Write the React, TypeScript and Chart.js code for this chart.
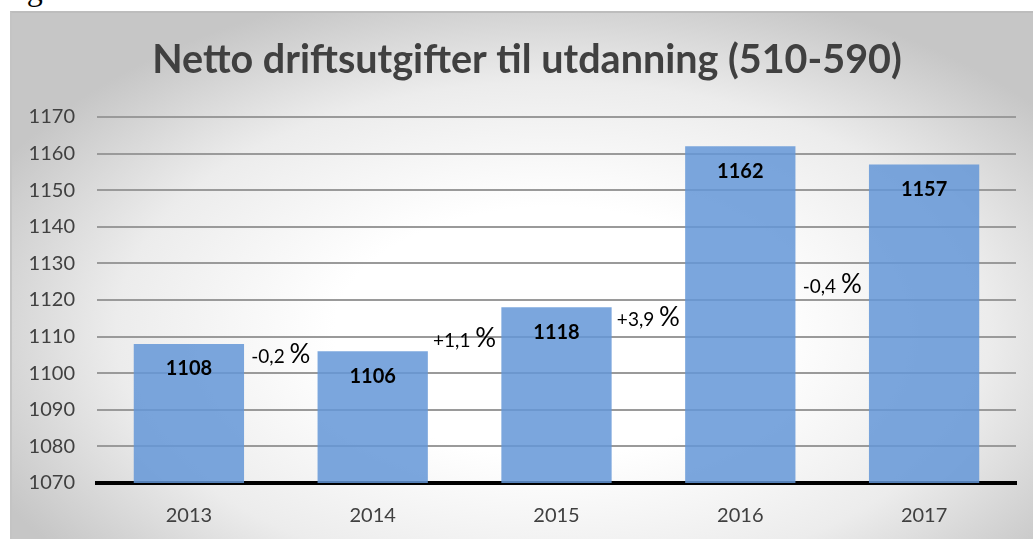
import React, { useEffect, useRef } from "react";
import { Chart, registerables } from "chart.js";

Chart.register(...registerables);

const years = ["2013", "2014", "2015", "2016", "2017"];
const values = [1108, 1106, 1118, 1162, 1157];
const changeLabels = ["-0,2", "+1,1", "+3,9", "-0,4"];
const changeLabelAt = [1102.8, 1107.2, 1112.9, 1121.9];
const yMin = 1070;
const yMax = 1170;
const yStep = 10;
const titleText = "Netto driftsutgifter til utdanning (510-590)";
const FONT = "Lato, 'Open Sans', sans-serif";

const labelsPlugin = {
  id: "labelsPlugin",
  afterDraw(chart: any) {
    const ctx = chart.ctx;
    ctx.save();
    ctx.fillStyle = "#404040";
    ctx.font = `bold 39.5px ${FONT}`;
    ctx.textAlign = "center";
    ctx.textBaseline = "alphabetic";
    ctx.fillText(titleText, 527, 73);
    ctx.restore();
  },
  afterDatasetsDraw(chart: any) {
    const ctx = chart.ctx;
    const meta = chart.getDatasetMeta(0);
    const xs = chart.scales.x;
    const ys = chart.scales.y;
    ctx.save();
    ctx.fillStyle = "#000000";
    ctx.font = `bold 20px ${FONT}`;
    ctx.textAlign = "center";
    ctx.textBaseline = "middle";
    meta.data.forEach((bar: any, i: number) => {
      ctx.fillText(String(values[i]), bar.x, bar.y + 25);
    });
    ctx.textBaseline = "alphabetic";
    ctx.textAlign = "left";
    changeLabels.forEach((t, i) => {
      const cx = (xs.getPixelForValue(i) + xs.getPixelForValue(i + 1)) / 2;
      const by = ys.getPixelForValue(changeLabelAt[i]);
      ctx.font = `19px ${FONT}`;
      const w1 = ctx.measureText(t + " ").width;
      ctx.font = `26px ${FONT}`;
      const w2 = ctx.measureText("%").width;
      const x0 = cx - (w1 + w2) / 2;
      ctx.font = `19px ${FONT}`;
      ctx.fillText(t + " ", x0, by);
      ctx.font = `26px ${FONT}`;
      ctx.fillText("%", x0 + w1, by);
    });
    ctx.restore();
  },
};

export default function App() {
  const ref = useRef<HTMLCanvasElement | null>(null);
  useEffect(() => {
    if (!ref.current) return;
    const chart = new Chart(ref.current, {
      type: "bar",
      data: {
        labels: years,
        datasets: [
          {
            data: values,
            backgroundColor: "rgba(100,151,215,0.85)",
            borderWidth: 0,
            categoryPercentage: 1,
            barPercentage: 0.6,
          },
        ],
      },
      options: {
        animation: false,
        responsive: false,
        maintainAspectRatio: false,
        layout: { padding: { left: 0, right: 17, top: 117, bottom: 0 } },
        plugins: {
          legend: { display: false },
          tooltip: { enabled: false },
          title: { display: false },
        },
        scales: {
          x: {
            grid: { display: false },
            border: { display: true, color: "#000000", width: 4 },
            ticks: { color: "#404040", font: { family: FONT, size: 20 }, padding: 13 },
            afterFit: (s: any) => {
              s.height = 56;
            },
          },
          y: {
            min: yMin,
            max: yMax,
            grid: { color: "#9a9a9a", lineWidth: 2, drawTicks: false },
            border: { display: false },
            ticks: {
              stepSize: yStep,
              color: "#404040",
              font: { family: FONT, size: 20 },
              padding: 22,
              callback: (v: any) => String(v),
            },
            afterFit: (s: any) => {
              s.width = 97;
            },
          },
        },
      },
      plugins: [labelsPlugin],
    });
    return () => chart.destroy();
  }, []);

  return (
    <div style={{ position: "fixed", left: 0, top: 0, width: 1033, height: 539, overflow: "hidden", background: "#ffffff" }}>
      <div
        style={{
          position: "absolute",
          left: 0,
          top: -27,
          fontFamily: "'Liberation Serif', serif",
          fontSize: 32,
          lineHeight: "32px",
          color: "#000",
          whiteSpace: "nowrap",
        }}
      >
        Figur 4.2
      </div>
      <div
        style={{
          position: "absolute",
          left: 10,
          top: 11,
          width: 1040,
          height: 550,
          borderTop: "2px solid #bdbdbd",
          borderLeft: "2px solid #c4c4c4",
          background: "radial-gradient(ellipse 60% 65% at 52% 58%, #ffffff 35%, #ececec 70%, #c6c6c6 100%)",
        }}
      />
      <canvas ref={ref} width={1033} height={539} style={{ position: "absolute", left: 0, top: 0 }} />
    </div>
  );
}
